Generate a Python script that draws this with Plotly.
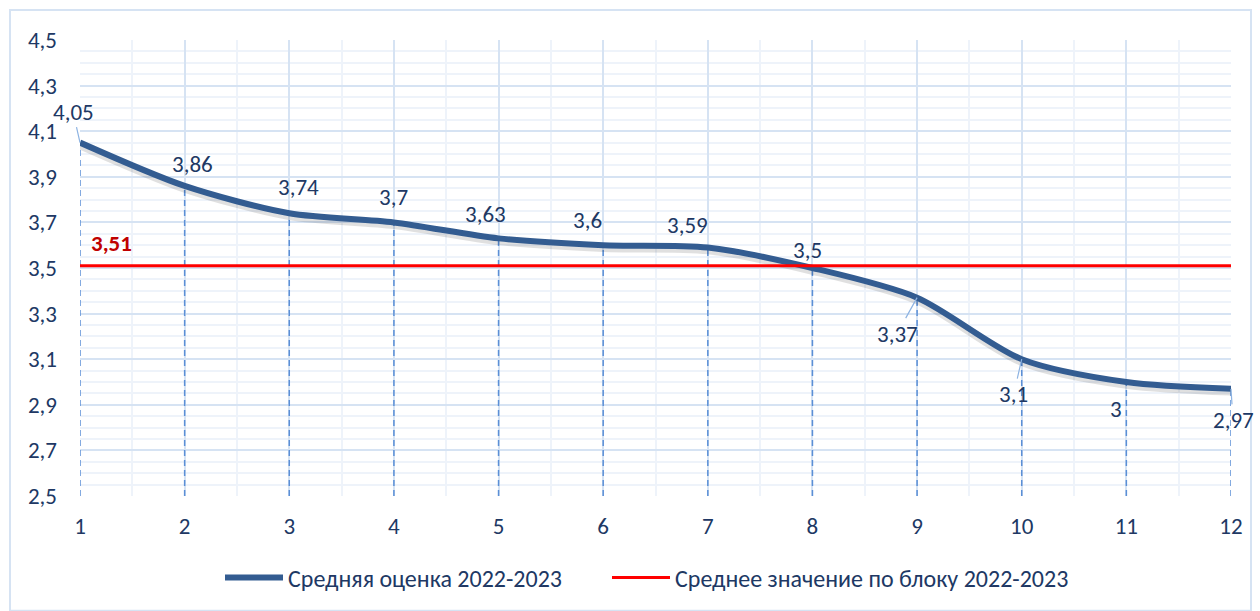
import plotly.graph_objects as go

x_vals = [1, 2, 3, 4, 5, 6, 7, 8, 9, 10, 11, 12]
avg_scores = [4.05, 3.86, 3.74, 3.7, 3.63, 3.6, 3.59, 3.5, 3.37, 3.1, 3.0, 2.97]
block_mean = 3.51
series_names = ["Средняя оценка 2022-2023", "Среднее значение по блоку 2022-2023"]
y_ticks = [2.5, 2.7, 2.9, 3.1, 3.3, 3.5, 3.7, 3.9, 4.1, 4.3, 4.5]

# label offsets (px) relative to point, and whether a leader line is drawn
label_offsets = [(-7, -31, True), (8, -22, False), (9, -26, False), (0, -25, False),
                 (-13, -24, False), (-16, -25, False), (-20, -22, False), (-5, -18, False),
                 (-20, 36, True), (-8, 35, True), (-10, 27, False), (2, 31, True)]

FONT = "Carlito, Lato, 'Open Sans', sans-serif"
FS = 23
TXT = "#203864"
fig = go.Figure()

# drop lines
dx, dy = [], []
for xv, yv in zip(x_vals, avg_scores):
    dx += [xv, xv, None]
    dy += [2.5, yv, None]
fig.add_trace(go.Scatter(x=dx, y=dy, mode="lines", showlegend=False, hoverinfo="skip",
                         line=dict(color="#5b8fd6", width=1.5, dash="6px,4px")))

# soft shadow
fig.add_trace(go.Scatter(x=x_vals, y=[v - 0.012 for v in avg_scores], mode="lines", showlegend=False,
                         hoverinfo="skip", line=dict(color="rgba(0,0,0,0.12)", width=8, shape="spline", smoothing=0.8)))

fig.add_trace(go.Scatter(x=x_vals, y=avg_scores, mode="lines", name=series_names[0], legend="legend",
                         line=dict(color="#335c91", width=6, shape="spline", smoothing=0.8)))

fig.add_trace(go.Scatter(x=[x_vals[0], x_vals[-1]], y=[block_mean, block_mean], mode="lines",
                         name=series_names[1], legend="legend2", line=dict(color="#ff0000", width=3)))

for xv, yv, (ox, oy, lead) in zip(x_vals, avg_scores, label_offsets):
    txt = f"{yv:g}".replace(".", ",")
    if lead:
        fig.add_annotation(x=xv, y=yv, text=txt, showarrow=True, arrowhead=0, arrowwidth=1.2,
                           arrowcolor="#8db3e2", ax=ox, ay=oy, standoff=0,
                           font=dict(family=FONT, size=FS, color=TXT))
    else:
        fig.add_annotation(x=xv, y=yv, text=txt, showarrow=False, xshift=ox, yshift=-oy,
                           font=dict(family=FONT, size=FS, color=TXT))

fig.add_annotation(x=1.3, y=block_mean, text="<b>" + f"{block_mean:g}".replace(".", ",") + "</b>",
                   showarrow=False, yshift=23, font=dict(family=FONT, size=FS, color="#c00000"))

# outer border
fig.add_shape(type="rect", xref="paper", yref="paper",
              x0=(10 - 80) / 1151, x1=(1251 - 80) / 1151, y0=(497 - 612) / 457, y1=(497 - 10) / 457,
              line=dict(color="#d6e3f3", width=2), fillcolor="rgba(0,0,0,0)", layer="below")

leg_common = dict(orientation="h", y=-0.177, yanchor="middle", xanchor="left",
                  font=dict(family=FONT, size=24, color=TXT), itemwidth=58, bgcolor="rgba(0,0,0,0)")

fig.update_layout(
    width=1260, height=611, separators=", ",
    margin=dict(l=80, r=29, t=40, b=114),
    paper_bgcolor="white", plot_bgcolor="white",
    font=dict(family=FONT, size=FS, color=TXT),
    showlegend=True,
    legend=dict(x=(220 - 80) / 1151, **leg_common),
    legend2=dict(x=(607 - 80) / 1151, **leg_common),
    xaxis=dict(range=[1, 12], tickvals=x_vals, showgrid=True, gridcolor="#d6e3f3", gridwidth=1.5,
               minor=dict(dtick=0.5, showgrid=True, gridcolor="#eef3fa", gridwidth=1.5, tick0=1),
               zeroline=False, showline=False, ticks="", ticklabelstandoff=14,
               tickfont=dict(family=FONT, size=FS, color=TXT)),
    yaxis=dict(range=[2.5, 4.5], tickvals=y_ticks, showgrid=True, gridcolor="#d6e3f3", gridwidth=1.5,
               minor=dict(dtick=0.05, tick0=2.5, showgrid=True, gridcolor="#eef3fa", gridwidth=1.5),
               zeroline=False, showline=False, ticks="", ticklabelstandoff=22,
               tickformat=".1f", tickfont=dict(family=FONT, size=FS, color=TXT)),
)

fig.write_html("out.html", config={"displayModeBar": False},
               post_script="document.body.style.margin='0';")
